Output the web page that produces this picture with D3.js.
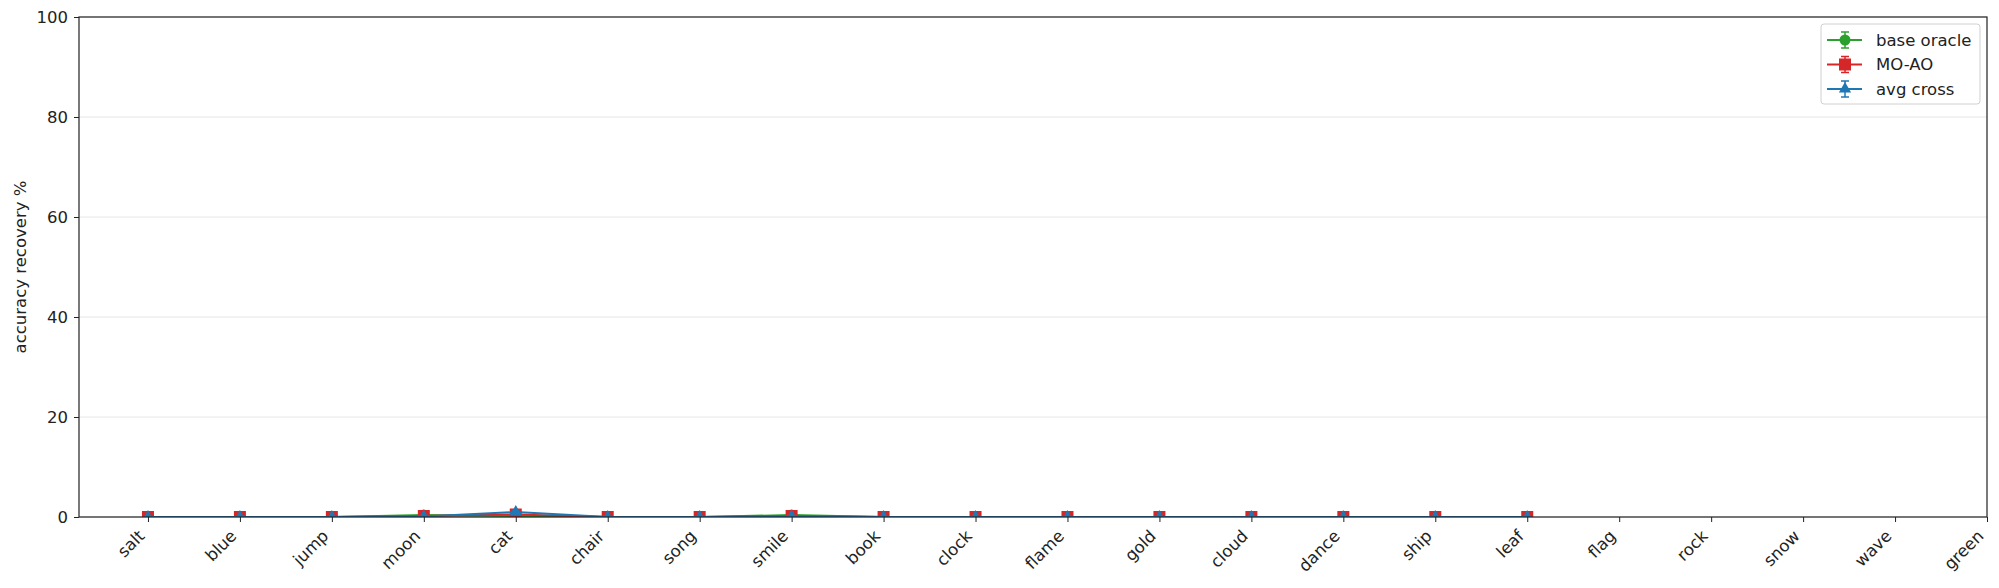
<!DOCTYPE html>
<html><head><meta charset="utf-8">
<script src="https://cdn.jsdelivr.net/npm/d3@7"></script>
<style>body{margin:0;background:#fff}svg{display:block;font-family:"DejaVu Sans",sans-serif}</style>
</head><body><svg id="c" width="1999" height="588"></svg>
<script>
const categories = ["salt","blue","jump","moon","cat","chair","song","smile","book","clock","flame","gold","cloud","dance","ship","leaf","flag","rock","snow","wave","green"];
const baseOracle = [0,0,0,0.4,0.2,0,0,0.4,0,0,0,0,0,0,0,0];
const baseOracleErr = [0,0,0,0.2,0.1,0,0,0.2,0,0,0,0,0,0,0,0];
const moao = [0,0,0,0.2,0.5,0,0,0.2,0,0,0,0,0,0,0,0];
const moaoErr = [0,0,0,0.1,0.3,0,0,0.1,0,0,0,0,0,0,0,0];
const avgCross = [0,0,0,0.1,1.0,0,0,0.1,0,0,0,0,0,0,0,0];
const avgCrossErr = [0,0,0,0.1,0.4,0,0,0.1,0,0,0,0,0,0,0,0];
const yTicks = [0,20,40,60,80,100];
const seriesNames = ["base oracle","MO-AO","avg cross"];
const colors = ["#2ca02c","#d62728","#1f77b4"];

const FS = 16.5;
const svg = d3.select("#c");
const L=79,R=1987,T=17,B=517;
const x = d3.scaleLinear().domain([-0.75, categories.length-1]).range([L,R]);
const y = d3.scaleLinear().domain([0,100]).range([B,T]);

svg.append("defs").append("clipPath").attr("id","clip").append("rect")
  .attr("x",L).attr("y",T).attr("width",R-L).attr("height",B-T);

// grid
svg.append("g").selectAll("line").data(yTicks).join("line")
  .attr("x1",L).attr("x2",R).attr("y1",d=>y(d)).attr("y2",d=>y(d))
  .attr("stroke","#e6e6e6").attr("stroke-width",1);

// series
const series = [
  {name:seriesNames[0], v:baseOracle, e:baseOracleErr, c:colors[0], m:"circle"},
  {name:seriesNames[1], v:moao, e:moaoErr, c:colors[1], m:"square"},
  {name:seriesNames[2], v:avgCross, e:avgCrossErr, c:colors[2], m:"triangle"}
];
const gData = svg.append("g").attr("clip-path","url(#clip)");
const line = d3.line().x((d,i)=>x(i)).y(d=>y(d));
function marker(g, type, cx, cy, c){
  if(type==="circle") g.append("circle").attr("cx",cx).attr("cy",cy).attr("r",5.5).attr("fill",c);
  else if(type==="square") g.append("rect").attr("x",cx-6).attr("y",cy-6).attr("width",12).attr("height",12).attr("fill",c);
  else g.append("path").attr("d",d3.symbol(d3.symbolTriangle,65)()).attr("transform",`translate(${cx},${cy})`).attr("fill",c);
}
series.forEach(s=>{
  const g = gData.append("g");
  s.v.forEach((v,i)=>{
    const e=s.e[i];
    g.append("line").attr("x1",x(i)).attr("x2",x(i)).attr("y1",y(v-e)).attr("y2",y(v+e)).attr("stroke",s.c).attr("stroke-width",1.5);
    [v-e,v+e].forEach(yy=>g.append("line").attr("x1",x(i)-4).attr("x2",x(i)+4).attr("y1",y(yy)).attr("y2",y(yy)).attr("stroke",s.c).attr("stroke-width",1.5));
  });
  g.append("path").datum(s.v).attr("d",line).attr("fill","none").attr("stroke",s.c).attr("stroke-width",2);
  s.v.forEach((v,i)=>marker(g,s.m,x(i),y(v),s.c));
});

// axes
const xAxis = d3.axisBottom(x).tickValues(d3.range(categories.length)).tickFormat(i=>categories[i]).tickSizeOuter(0).tickSize(5).tickPadding(4);
const gx = svg.append("g").attr("transform",`translate(0,${B})`).call(xAxis);
gx.select(".domain").remove();
gx.attr("font-family",null).attr("font-size",null);
gx.selectAll(".tick line").attr("stroke","#222");
gx.selectAll(".tick text").attr("font-size",FS).attr("fill","#222")
  .attr("text-anchor","end").attr("dy","0.35em").attr("y",0)
  .attr("transform","translate(-7,16) rotate(-45)");
const yAxis = d3.axisLeft(y).tickValues(yTicks).tickSize(5).tickPadding(6).tickSizeOuter(0);
const gy = svg.append("g").attr("transform",`translate(${L},0)`).call(yAxis);
gy.select(".domain").remove();
gy.attr("font-family",null).attr("font-size",null);
gy.selectAll(".tick line").attr("stroke","#222");
gy.selectAll(".tick text").attr("font-size",FS).attr("fill","#222");

svg.append("rect").attr("x",L).attr("y",T).attr("width",R-L).attr("height",B-T)
  .attr("fill","none").attr("stroke","#222").attr("stroke-width",1.2);

svg.append("text").attr("transform",`translate(20,${(T+B)/2}) rotate(-90)`)
  .attr("text-anchor","middle").attr("dy","0.35em").attr("font-size",FS).attr("fill","#222").text("accuracy recovery %");

// legend
const lg = svg.append("g");
lg.append("rect").attr("x",1821).attr("y",24).attr("width",159).attr("height",80).attr("rx",3)
  .attr("fill","#fff").attr("fill-opacity",0.8).attr("stroke","#d0d0d0");
series.forEach((s,k)=>{
  const yy = 40 + k*24.5;
  lg.append("line").attr("x1",1827).attr("x2",1862).attr("y1",yy).attr("y2",yy).attr("stroke",s.c).attr("stroke-width",2);
  lg.append("line").attr("x1",1845).attr("x2",1845).attr("y1",yy-8).attr("y2",yy+8).attr("stroke",s.c).attr("stroke-width",1.5);
  [yy-8,yy+8].forEach(q=>lg.append("line").attr("x1",1841).attr("x2",1849).attr("y1",q).attr("y2",q).attr("stroke",s.c).attr("stroke-width",1.5));
  marker(lg,s.m,1845,yy,s.c);
  lg.append("text").attr("x",1876).attr("y",yy).attr("dy","0.35em").attr("font-size",FS).attr("fill","#222").text(s.name);
});
</script></body></html>
